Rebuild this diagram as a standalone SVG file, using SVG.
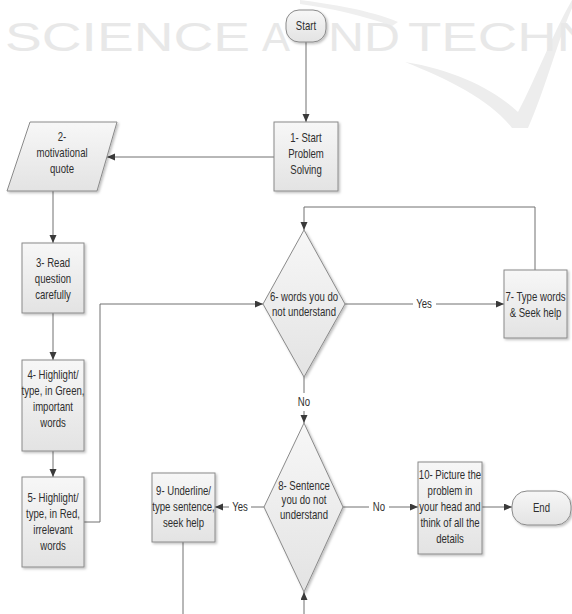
<svg xmlns="http://www.w3.org/2000/svg" width="572" height="614" viewBox="0 0 572 614">
<defs>
<linearGradient id="g" x1="0" y1="0" x2="0" y2="1"><stop offset="0" stop-color="#f7f7f7"/><stop offset="1" stop-color="#e3e3e3"/></linearGradient>
<filter id="sh" x="-10%" y="-10%" width="130%" height="130%"><feDropShadow dx="1.5" dy="1.5" stdDeviation="1" flood-color="#000" flood-opacity="0.25"/></filter>
<marker id="ar" markerUnits="userSpaceOnUse" markerWidth="9" markerHeight="8" refX="8" refY="3.5" orient="auto"><path d="M0,0 L8,3.5 L0,7 z" fill="#3a3a3a"/></marker>
<style>
.n{fill:url(#g);stroke:#8a8a8a;stroke-width:1;filter:url(#sh)}
.t{font-family:"Liberation Sans",Arial,sans-serif;font-size:12px;fill:#2e2e2e;text-anchor:middle;dominant-baseline:central}
.c{fill:none;stroke:#707070;stroke-width:1}
.a{marker-end:url(#ar)}
.w{font-family:"Liberation Sans",sans-serif;font-size:40px;fill:#e8e8e8}
</style>
</defs>
<rect width="572" height="614" fill="#fff"/>
<g id="watermark">
<path d="M300,0 C330,4 370,10 398,22 L392,26 C365,16 330,8 300,4 z" fill="#efefef"/>
<path d="M405,62 C450,80 490,100 512,128 L528,128 C545,90 558,40 572,8 L572,0 C552,35 535,80 518,112 C495,90 455,70 405,62 z" fill="#ededed"/>
<text class="w" x="5" y="51" textLength="245" lengthAdjust="spacingAndGlyphs">SCIENCE</text>
<text class="w" x="262" y="51" textLength="28" lengthAdjust="spacingAndGlyphs">A</text>
<text class="w" x="328" y="51" textLength="72" lengthAdjust="spacingAndGlyphs">ND</text>
<text class="w" x="408" y="51" textLength="188" lengthAdjust="spacingAndGlyphs">TECHN</text>
</g>
<g id="connectors">
<path class="c a" d="M306,42 V122"/>
<path class="c a" d="M274,157 H107"/>
<path class="c a" d="M53,191 V243"/>
<path class="c a" d="M53,313 V360"/>
<path class="c a" d="M53,451 V477"/>
<path class="c a" d="M84,522 H100 V304 H263"/>
<path class="c" d="M345,304 H413"/>
<path class="c a" d="M436,304 H504"/>
<text class="t" transform="translate(424,0) scale(0.8,1)" x="0" y="304">Yes</text>
<path class="c a" d="M535,270 V207 H304 V230"/>
<path class="c" d="M304,377 V393"/>
<text class="t" transform="translate(304,0) scale(0.8,1)" x="0" y="402">No</text>
<path class="c a" d="M304,411 V423"/>
<path class="c" d="M264,507 H251"/>
<path class="c a" d="M229,507 H215"/>
<text class="t" transform="translate(240,0) scale(0.8,1)" x="0" y="507">Yes</text>
<path class="c" d="M183,542 V614"/>
<path class="c a" d="M304,614 V592"/>
<path class="c" d="M343,507 H369"/>
<text class="t" transform="translate(379,0) scale(0.8,1)" x="0" y="507">No</text>
<path class="c a" d="M389,507 H418"/>
<path class="c a" d="M482,507 H512"/>
</g>
<g id="start"><rect class="n" x="286" y="10" width="40" height="32" rx="13"/><text class="t" transform="translate(306,0) scale(0.8,1)" x="0" y="26">Start</text></g>
<g id="n1"><rect class="n" x="274" y="122" width="64" height="69"/><text class="t" transform="translate(306,0) scale(0.8,1)"><tspan x="0" y="138">1- Start</tspan><tspan x="0" y="154">Problem</tspan><tspan x="0" y="170">Solving</tspan></text></g>
<g id="n2"><polygon class="n" points="30,122 117,122 97,191 7,191"/><text class="t" transform="translate(62,0) scale(0.8,1)"><tspan x="0" y="137">2-</tspan><tspan x="0" y="153">motivational</tspan><tspan x="0" y="169">quote</tspan></text></g>
<g id="n3"><rect class="n" x="22" y="243" width="62" height="70"/><text class="t" transform="translate(53,0) scale(0.8,1)"><tspan x="0" y="263">3- Read</tspan><tspan x="0" y="279">question</tspan><tspan x="0" y="295">carefully</tspan></text></g>
<g id="n4"><rect class="n" x="22" y="360" width="62" height="91"/><text class="t" transform="translate(53,0) scale(0.8,1)"><tspan x="0" y="375">4- Highlight/</tspan><tspan x="0" y="391">type, in Green,</tspan><tspan x="0" y="407">important</tspan><tspan x="0" y="423">words</tspan></text></g>
<g id="n5"><rect class="n" x="22" y="477" width="62" height="90"/><text class="t" transform="translate(53,0) scale(0.8,1)"><tspan x="0" y="498">5- Highlight/</tspan><tspan x="0" y="514">type, in Red,</tspan><tspan x="0" y="530">irrelevant</tspan><tspan x="0" y="546">words</tspan></text></g>
<g id="n6"><polygon class="n" points="304,230 345,304 304,377 263,304"/><text class="t" transform="translate(304,0) scale(0.8,1)"><tspan x="0" y="297">6- words you do</tspan><tspan x="0" y="312">not understand</tspan></text></g>
<g id="n7"><rect class="n" x="504" y="270" width="63" height="68"/><text class="t" transform="translate(535.5,0) scale(0.8,1)"><tspan x="0" y="297">7- Type words</tspan><tspan x="0" y="313">&amp; Seek help</tspan></text></g>
<g id="n8"><polygon class="n" points="304,423 343,507 304,592 264,507"/><text class="t" transform="translate(304,0) scale(0.8,1)"><tspan x="0" y="486">8- Sentence</tspan><tspan x="0" y="500">you do not</tspan><tspan x="0" y="515">understand</tspan></text></g>
<g id="n9"><rect class="n" x="152" y="473" width="63" height="69"/><text class="t" transform="translate(183.5,0) scale(0.8,1)"><tspan x="0" y="491">9- Underline/</tspan><tspan x="0" y="507">type sentence,</tspan><tspan x="0" y="523">seek help</tspan></text></g>
<g id="n10"><rect class="n" x="418" y="462" width="64" height="92"/><text class="t" transform="translate(450,0) scale(0.8,1)"><tspan x="0" y="475">10- Picture the</tspan><tspan x="0" y="491">problem in</tspan><tspan x="0" y="507">your head and</tspan><tspan x="0" y="523">think of all the</tspan><tspan x="0" y="539">details</tspan></text></g>
<g id="end"><rect class="n" x="512" y="491" width="59" height="34" rx="15"/><text class="t" transform="translate(541.5,0) scale(0.8,1)" x="0" y="508">End</text></g>
</svg>
